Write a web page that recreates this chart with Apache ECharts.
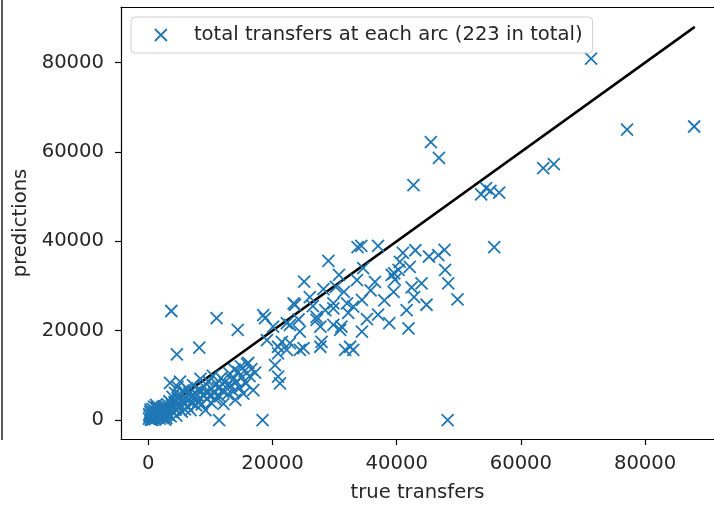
<!DOCTYPE html>
<html>
<head>
<meta charset="utf-8">
<script src="https://cdn.jsdelivr.net/npm/echarts@6/dist/echarts.min.js"></script>
<style>
html,body{margin:0;padding:0;background:#fff;}
#chart{width:714px;height:505px;}
</style>
</head>
<body>
<div id="chart"></div>
<script>
// true transfers (x) and predictions (y) for each arc
var trueTransfers = [
71300,87900,77100,45500,46800,42700,65300,63600,53600,54400,55100,56500,55700,48200,18400,11400,3700,4600,8200,11000,
14400,18800,18500,25100,29000,33700,34300,37000,41000,46700,47700,47800,48300,49800,39200,39700,40300,42100,42400,44000,
39500,44800,41600,41900,37000,34400,34400,34600,23600,31500,33000,31100,31700,27700,24400,25000,21500,27900,29800,27100,
22800,20900,20900,21200,20400,22300,22800,20900,24200,24400,27100,27700,29800,32000,32500,33000,29800,28500,30900,23400,
22300,20100,19100,40500,39600,36500,35800,33600,30200,26000,28200,32200,35200,38000,43000,45200,42800,38800,26500,30700,
100,200,300,400,500,600,700,800,900,1000,1100,1200,1300,1400,1500,1600,1700,1800,1900,2000,
2100,2200,2300,2400,2500,2600,2700,2800,2900,3000,150,350,650,950,1250,1750,2250,2750,
3100,3200,3300,3400,3500,3600,3700,3800,3900,4000,4100,4200,4300,4400,4500,4600,4700,4800,4900,5000,
5100,5200,5400,5500,5600,5800,5900,6000,6200,6300,6500,6600,6800,6900,7100,7200,7400,7500,7700,7900,
8100,8300,8400,8600,8800,9000,9200,9400,9500,9700,9900,10100,10200,10400,10600,10800,11000,11200,11500,11700,
11900,12100,12300,12500,12800,
13100,13300,13500,13700,13900,14000,14200,14500,14700,14900,15100,15300,15500,15700,15900,16100,16300,16600,16900,17200
];
var predictions = [
80900,65700,65000,62200,58700,52600,57300,56400,50500,51900,51300,50900,38700,0,0,0,24400,14700,16200,22800,
20200,22800,23500,31000,35600,38700,39000,39000,37400,36900,38100,33600,30600,27000,32500,31400,33600,34300,29700,30600,
28700,25800,24600,20500,23600,26900,19800,34000,25800,28700,25400,20900,15700,20900,19800,16100,17500,17500,25000,22400,
21300,14900,9700,8200,12300,15700,17200,16400,22500,15700,23100,16400,21300,26100,16400,15700,26100,24600,20200,26100,
21700,20900,17900,35400,32800,30900,29000,31300,29800,27500,29300,24000,22600,26800,38000,36600,27500,21700,25500,32500,
300,900,1800,100,700,1300,2500,400,1000,1600,200,800,1900,2800,600,1200,2200,300,900,1500,
2600,1100,400,1800,3100,800,1400,2300,500,1900,1300,2300,50,3000,3400,1500,2900,100,
3500,1200,2600,4200,8300,800,2100,3300,5200,1700,2900,4000,6100,2300,1000,3600,7400,4800,2700,5700,
8600,3200,1900,4300,6600,3800,2400,5000,7100,3000,4400,6000,2200,5300,3700,7800,4900,6200,3300,5500,
4300,6800,9200,3500,5600,7400,2200,4800,6200,8600,5400,3900,7000,9900,6000,4700,8100,7200,5300,9400,
6500,3600,8400,7300,5800,
10400,7700,9000,6400,11300,4500,8600,10800,7200,12000,9600,5900,11000,8200,12500,12800,9800,11400,6700,10600
];
var lineX = [0, 88000];
var xTicks = [0, 20000, 40000, 60000, 80000];
var yTicks = [0, 20000, 40000, 60000, 80000];
var legendLabel = 'total transfers at each arc (223 in total)';

var points = trueTransfers.map(function (v, i) { return [v, predictions[i]]; });
var linePts = lineX.map(function (v) { return [v, v]; });
var xMark = 'path://M0,0L10,10M10,0L0,10';
var blue = '#1f77b4';
var txt = '#262626';
var font = 'DejaVu Sans';
var fs = 19.6;
var plain = function (v) { return String(v); };
var spine = {color: '#000', width: 1.2};

var chart = echarts.init(document.getElementById('chart'), null, {renderer: 'canvas'});
chart.setOption({
  animation: false,
  backgroundColor: '#fff',
  textStyle: {fontFamily: font},
  grid: {left: 121, top: 7, width: 593, height: 432, show: false, containLabel: false, outerBoundsMode: 'none'},
  legend: {
    left: 131, top: 17,
    padding: [8, 10, 8, 23],
    itemWidth: 12, itemHeight: 12,
    borderColor: '#d0d0d0', borderWidth: 1, borderRadius: 4,
    backgroundColor: 'rgba(255,255,255,0.8)',
    textStyle: {fontSize: fs, color: txt, fontFamily: font, padding: [0, 0, 0, 22]},
    data: [{name: legendLabel, icon: xMark, itemStyle: {color: blue, borderColor: blue, borderWidth: 1.8}}]
  },
  xAxis: [{
    type: 'value', min: -4400, max: 91100,
    name: 'true transfers', nameLocation: 'middle', nameGap: 44,
    nameTextStyle: {fontSize: fs, color: txt, fontFamily: font},
    axisLine: {show: true, onZero: false, lineStyle: spine},
    axisTick: {show: true, length: 6, customValues: xTicks, lineStyle: spine},
    axisLabel: {customValues: xTicks, formatter: plain, fontSize: fs, color: txt, margin: 15, fontFamily: font},
    splitLine: {show: false}
  }, {
    type: 'value', position: 'top', min: -4400, max: 91100,
    axisLine: {show: true, onZero: false, lineStyle: spine},
    axisTick: {show: false}, axisLabel: {show: false}, splitLine: {show: false}
  }],
  yAxis: {
    type: 'value', min: -4250, max: 92450,
    name: 'predictions', nameLocation: 'middle', nameGap: 80,
    nameTextStyle: {fontSize: fs, color: txt, fontFamily: font},
    axisLine: {show: true, onZero: false, lineStyle: spine},
    axisTick: {show: true, length: 6, customValues: yTicks, lineStyle: spine},
    axisLabel: {customValues: yTicks, formatter: plain, fontSize: fs, color: txt, margin: 17, fontFamily: font},
    splitLine: {show: false}
  },
  series: [
    {
      type: 'line', data: linePts, symbol: 'none', z: 2, silent: true,
      lineStyle: {color: '#000', width: 2.5}
    },
    {
      name: legendLabel, type: 'scatter', data: points, symbol: xMark, symbolSize: 12, z: 3,
      itemStyle: {color: blue, borderColor: blue, borderWidth: 1.8, opacity: 1}
    }
  ],
  graphic: [{type: 'rect', left: 1, top: 0, shape: {width: 2, height: 440}, style: {fill: '#5a5a5a'}, silent: true}]
});
</script>
</body>
</html>
